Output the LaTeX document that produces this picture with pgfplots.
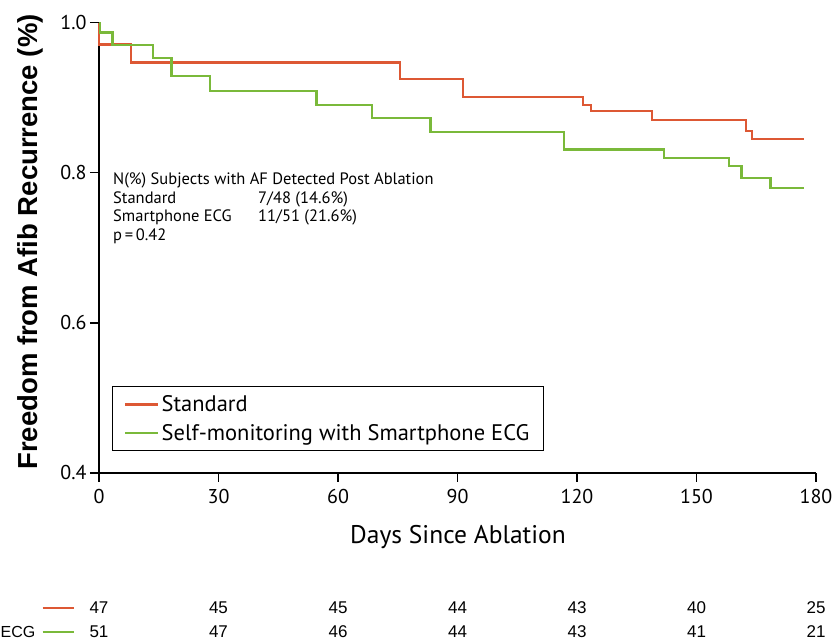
\documentclass[border=0pt]{standalone}
\usepackage{pgfplots}
\pgfplotsset{compat=1.18}
\usepackage{fontspec}
\setmainfont{PT Sans}
\newfontfamily\arial{Liberation Sans}
\definecolor{stdred}{RGB}{221,88,52}
\definecolor{ecggreen}{RGB}{122,185,58}
\begin{document}
\begin{tikzpicture}[x=1pt,y=1pt]
\path[use as bounding box] (-99,-170.3) rectangle (736,472.7);
\begin{axis}[
  at={(0,0)}, anchor=south west,
  scale only axis, width=717pt, height=450pt,
  xmin=0, xmax=180, ymin=0.4, ymax=1.0,
  axis x line*=bottom, axis y line*=left,
  axis line style={line width=1.6pt,-},
  xtick={0,30,...,180}, ytick={0.4,0.6,0.8,1.0},
  yticklabel style={/pgf/number format/.cd,fixed,fixed zerofill,precision=1},
  xticklabel style={yshift=-4pt},
  tick align=outside, major tick length=9pt,
  tick style={line width=1.6pt,black},
  /pgf/number format/assume math mode=true,
  ticklabel style={font=\fontsize{20}{20}\selectfont},
  clip=false,
  legend cell align=left,
  legend style={at={(axis cs:3.19,0.5156)}, anchor=north west, draw=black,
    line width=1.1pt, font=\fontsize{22.5}{26}\selectfont,
    inner xsep=12pt, inner ysep=7pt, row sep=7pt},
  legend image code/.code={\draw[#1, line width=2.4pt] (0pt,0pt) -- (33pt,0pt);},
]
\addplot[const plot, stdred, line width=2.2pt] coordinates {
(0,1.0) (0,0.971) (8,0.947) (75.5,0.925) (91.3,0.901) (121.5,0.890) (123.6,0.882)
(138.9,0.870) (162.5,0.856) (163.9,0.845) (176.9,0.845)};
\addlegendentry{Standard}
\addplot[const plot, ecggreen, line width=2.2pt] coordinates {
(0,1.0) (0.3,0.987) (3.4,0.970) (13.5,0.953) (18.2,0.929) (27.9,0.909) (54.6,0.890)
(68.6,0.873) (83.2,0.854) (116.7,0.831) (141.8,0.820) (158.2,0.809) (161.3,0.793)
(168.6,0.780) (176.9,0.780)};
\addlegendentry{Self-monitoring with Smartphone ECG}
\end{axis}
% annotation
\begin{scope}[every node/.style={font=\fontsize{16.5}{16.5}\selectfont, anchor=base west, inner sep=0pt}]
\node at (14,472.7-185) {N(\%) Subjects with AF Detected Post Ablation};
\node at (14,472.7-203.5) {Standard};
\node at (159,472.7-203.5) {7/48 (14.6\%)};
\node at (14,472.7-222) {Smartphone ECG};
\node at (159,472.7-222) {11/51 (21.6\%)};
\node at (14,472.7-240.5) {p\,=\,0.42};
\end{scope}
% axis labels
\node[font=\arial\bfseries\fontsize{27.5}{27.5}\selectfont, rotate=90] at (30-99,472.7-242) {Freedom from Afib Recurrence (\%)};
\node[font=\fontsize{25.5}{25.5}\selectfont] at (458-99,472.7-537) {Days Since Ablation};
% risk table
\begin{scope}[every node/.style={font=\arial\fontsize{17}{17}\selectfont}]
\foreach \d/\v in {0/47,30/45,60/45,90/44,120/43,150/40,180/25}
  \node at ({\d*3.98333},472.7-608) {\v};
\foreach \d/\v in {0/51,30/47,60/46,90/44,120/43,150/41,180/21}
  \node at ({\d*3.98333},472.7-632) {\v};
\node[anchor=west, inner sep=0pt, font=\arial\fontsize{16}{16}\selectfont] at (-98.5,472.7-632) {ECG};
\end{scope}
\draw[stdred, line width=2.5pt] (42.6-99,472.7-608) -- (74.5-99,472.7-608);
\draw[ecggreen, line width=2.5pt] (42.6-99,472.7-632) -- (74.5-99,472.7-632);
\end{tikzpicture}
\end{document}
